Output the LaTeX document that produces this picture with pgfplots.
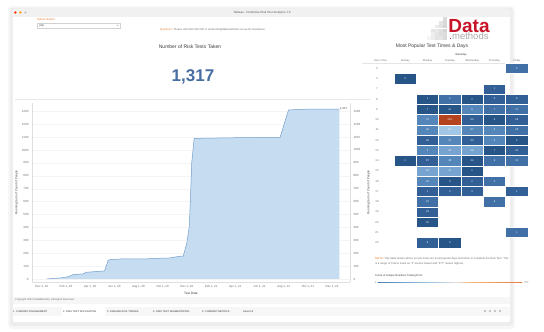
\documentclass[border=0pt]{standalone}
\usepackage{fontspec}
\setmainfont{Liberation Sans}
\usepackage{pgfplots}
\pgfplotsset{compat=1.18}
\definecolor{tabblue}{RGB}{70,110,162}
\definecolor{areafill}{RGB}{198,220,240}
\definecolor{arealine}{RGB}{115,158,205}
\definecolor{tblorange}{RGB}{232,120,40}
\definecolor{txtgray}{RGB}{110,110,110}
\definecolor{titlegray}{RGB}{60,60,60}
\definecolor{logored}{RGB}{200,20,40}
\definecolor{hA}{RGB}{40,85,136}
\definecolor{hB}{RGB}{50,96,150}
\definecolor{hC}{RGB}{64,112,165}
\definecolor{hD}{RGB}{84,134,185}
\definecolor{hE}{RGB}{118,163,207}
\definecolor{hF}{RGB}{162,198,229}
\definecolor{hR}{RGB}{180,68,32}
\newcommand{\fs}[1]{\fontsize{#1}{#1}\selectfont}
\pgfdeclarehorizontalshading{obshade}{4pt}{rgb(0pt)=(0.149,0.322,0.51); rgb(25pt)=(0.30,0.50,0.71); rgb(45pt)=(0.66,0.79,0.90); rgb(52pt)=(0.87,0.87,0.87); rgb(58pt)=(0.97,0.70,0.45); rgb(78pt)=(0.90,0.45,0.20); rgb(100pt)=(0.66,0.23,0.12)}
\pgfplotsset{
  cell/.style={only marks, mark=square*, mark size=5.13pt,
    mark options={xscale=2.176, line width=0.35pt, draw=white, fill=#1},
    point meta=explicit symbolic,
    nodes near coords,
    every node near coord/.append style={anchor=center, font=\fs{2.6}, text=white, inner sep=0pt}},
}

\begin{document}
\begin{tikzpicture}
\useasboundingbox (0,0) rectangle (544pt,-332pt);
\begin{scope}[x=1pt,y=-1pt]
\fill[white] (0,0) rectangle (544,332);
% window shadow
\fill[black,opacity=0.03,rounded corners=4] (8,6) rectangle (515,329);
\fill[black,opacity=0.04,rounded corners=3] (10,7.5) rectangle (513,326);
\draw[gray!25, fill=white, rounded corners=2, line width=0.3] (12.3,8.3) rectangle (510.5,322.5);
% title bar
\fill[gray!11] (12.6,8.6) rectangle (510.2,16.5);
\fill[red!70!orange] (15.3,12.5) circle (1.3);
\fill[orange!80!yellow] (20.3,12.5) circle (1.3);
\fill[gray!45] (25.3,12.5) circle (1.3);
\node[font=\fs{3}, text=gray!70!black] at (262,12.5) {Tableau - Predictive Risk Test Analytics 1.0};
% filter
\node[anchor=west, text=tblorange, font=\fs{2.8}, inner sep=0] at (37,19.6) {Select Version};
\draw[gray!35, line width=0.3] (37,22.7) rectangle (120,28);
\node[anchor=west, font=\fs{2.6}, text=titlegray, inner sep=0] at (39,25.35) {(All)};
\draw[gray!60, line width=0.3] (116.5,24.8) -- (117.5,25.9) -- (118.5,24.8);
\node[anchor=west, font=\fs{2.7}, inner sep=0] at (160,29.3) {\textcolor{tblorange}{Question?}\enspace\textcolor{txtgray}{Please call 0400 000 000 or email info@datamethods.com.au for assistance.}};
% logo
\foreach \c/\top/\sh in {0/33/8,1/29/12,2/25/16,3/21/20,4/17/26}{
  \foreach \r in {0,...,6}{
    \pgfmathsetmacro{\yy}{40-3.8*(\r+1)}
    \pgfmathparse{\yy>=\top-0.5?1:0}
    \ifnum\pgfmathresult=1
      \pgfmathsetmacro{\shade}{\sh+mod(\r*7+\c*3,9)}
      \fill[gray!\shade] (427+4*\c,\yy) rectangle ++(3.6,3.6);
    \fi
  }
}
\node[inner sep=0] at (469,29.6) {\vbox{\offinterlineskip
  \hbox to 44pt{\hss\fs{19}\bfseries\textcolor{logored}{Data}\hss}\kern0.6pt
  \hbox to 44pt{\hss\fs{9.5}\textcolor{gray!65}{\textcolor{logored}{.}methods}\hss}}};
% left panel titles
\node[font=\fs{5}, text=titlegray] at (190,46.5) {Number of Risk Tests Taken};
\node[font=\fs{17}\bfseries, text=tabblue] at (193,76.5) {1,317};
\draw[gray!18, line width=0.4] (15,99) -- (370,99);
% right panel titles
\node[font=\fs{5}, text=titlegray] at (432,46.7) {Most Popular Test Times \& Days};
\node[font=\fs{2.7}, text=titlegray] at (461,55) {Weekday};
\node[font=\fs{2.6}, text=txtgray] at (381,60.7) {Hour of Da..};
\draw[gray!20, line width=0.3] (362,63.2) -- (528,63.2);
% note and legend
\node[anchor=west, font=\fs{2.75}, inner sep=0, text=txtgray] at (375,258.8) {\textcolor{tblorange}{NOTE:} This table shows where on test times are most popular days and times to complete the Risk Test. This};
\node[anchor=west, font=\fs{2.75}, inner sep=0, text=txtgray] at (375,263.8) {is a range of Colour scale as ``1'' means lowest and ``277'' means highest.};
\node[anchor=west, font=\fs{2.7}, inner sep=0, text=titlegray] at (375,276) {Count of Unique Numbers Testing Error};
\shade[shading=obshade] (377.7,280.7) rectangle (522,284.2);
\node[font=\fs{2.6}, text=txtgray, inner sep=0] at (375.5,282.4) {1};
\node[font=\fs{2.6}, text=txtgray, inner sep=0] at (526.5,282.4) {277};
% copyright band
\fill[gray!7] (12.8,296.5) rectangle (510,304);
\node[anchor=west, font=\fs{2.6}, text=txtgray, inner sep=0] at (15,300.3) {Copyright 2022 DataMethods | All Rights Reserved};
% tab bar
\fill[gray!6] (12.8,306.5) rectangle (510,316);
\fill[white] (61.5,307) rectangle (105,315.5);
\foreach \xx/\tt in {13/{1. COMPANY ENGAGEMENT},63/{2. RISK TEST APPLICATION},107/{3. DISEASE RISK TRENDS},153/{4. RISK TEST SEGMENTATION},202/{5. COMPANY METRICS},243/{Sheet 15}}{
  \node[anchor=west, font=\fs{2.5}, text=gray!40!black, inner sep=0] at (\xx,311.2) {\tt};
}
\foreach \xx in {484,489,494,499}{\fill[gray!45] (\xx,310.2) rectangle ++(2,2);}
\end{scope}

% ---------- area chart ----------
\begin{axis}[
  at={(32pt,-281.7pt)}, anchor=south west, scale only axis,
  width=318pt, height=178.7pt,
  xmin=-0.8, xmax=25.48, ymin=-21, ymax=1364,
  xtick={0,2,...,24},
  xticklabels={{Dec 1, 19},{Feb 1, 20},{Apr 1, 20},{Jun 1, 20},{Aug 1, 20},{Oct 1, 20},{Dec 1, 20},{Feb 1, 21},{Apr 1, 21},{Jun 1, 21},{Aug 1, 21},{Oct 1, 21},{Dec 1, 21}},
  ytick={0,100,...,1300},
  ymajorgrids, grid style={gray!9, line width=0.3pt},
  axis y line*=left, axis x line*=bottom,
  axis line style={-, gray!25, line width=0.3pt},
  tick style={draw=none},
  ticklabel style={font=\fs{3}, text=txtgray},
  /pgf/number format/assume math mode=true,
  /pgf/number format/set thousands separator={},
  xlabel={Test Date}, xlabel style={font=\fs{3.2}, text=titlegray, yshift=3pt},
  ylabel={Running Sum of Count of People}, ylabel style={font=\fs{3}, text=titlegray, yshift=-3pt},
]
\addplot[draw=none, fill=areafill] coordinates {
(0.4,0) (1.5,8) (2.1,15) (2.6,34) (3.4,39) (3.7,52) (4.8,60) (5.1,62) (5.2,64) (5.5,145) (5.65,150) (6.5,155) (8.4,155) (9.5,160) (10.6,163) (11.4,176) (11.7,178) (12.0,280) (12.2,409) (12.3,640) (12.4,900) (12.6,1090) (16.1,1095) (19.7,1098) (20.4,1310) (21.6,1315) (22.2,1317) (24.6,1317)} \closedcycle;
\addplot[draw=arealine, line width=0.5pt] coordinates {
(0.4,0) (1.5,8) (2.1,15) (2.6,34) (3.4,39) (3.7,52) (4.8,60) (5.1,62) (5.2,64) (5.5,145) (5.65,150) (6.5,155) (8.4,155) (9.5,160) (10.6,163) (11.4,176) (11.7,178) (12.0,280) (12.2,409) (12.3,640) (12.4,900) (12.6,1090) (16.1,1095) (19.7,1098) (20.4,1310) (21.6,1315) (22.2,1317) (24.6,1317)};
\node[anchor=west, font=\fs{2.8}, text=titlegray, inner sep=0.6pt] at (axis cs:24.6,1317) {1,317};
\end{axis}
\begin{axis}[
  at={(32pt,-281.7pt)}, anchor=south west, scale only axis,
  width=318pt, height=178.7pt,
  xmin=-0.8, xmax=25.48, ymin=-21, ymax=1364,
  axis y line*=right, axis x line=none,
  yticklabel pos=right, ylabel near ticks,
  axis line style={-, gray!25, line width=0.3pt},
  ytick={0,100,...,1300},
  tick style={draw=none},
  ticklabel style={font=\fs{3}, text=txtgray},
  /pgf/number format/assume math mode=true,
  /pgf/number format/set thousands separator={},
  ylabel={Running Sum of Count of People}, ylabel style={font=\fs{3}, text=titlegray},
]
\addplot[draw=none] coordinates {(0,0)};
\end{axis}

% ---------- heatmap ----------
\begin{axis}[
  at={(394pt,-247.8pt)}, anchor=south west, scale only axis,
  width=134pt, height=184.6pt,
  xmin=-0.5, xmax=5.5, ymin=-0.5, ymax=17.5,
  axis line style={draw=none}, tick style={draw=none},
  xtick={0,...,5}, xticklabels={Sunday,Monday,Tuesday,Wednesday,Thursday,Friday},
  xticklabel pos=upper,
  xticklabel style={font=\fs{2.6}, text=txtgray, anchor=center, yshift=2.6pt},
  ytick={0,...,17}, yticklabels={22,21,20,19,18,17,16,15,14,13,12,11,10,9,8,7,3,0},
  yticklabel style={font=\fs{2.8}, text=txtgray, anchor=center, xshift=-17pt},
  clip=false,
]
\addplot[cell=hA] table[meta=lbl]{
x y lbl
0 16 3
1 14 1
3 14 2
1 13 7
2 13 11
4 12 4
5 10 2
4 9 7
0 8 1
3 8 34
3 7 1
2 6 3
1 2 40
2 0 3
};
\addplot[cell=hB] table[meta=lbl]{
x y lbl
4 15 1
4 14 3
5 14 8
3 12 53
5 12 26
1 10 36
3 10 90
5 9 41
1 8 87
3 6 2
1 5 1
2 5 3
3 5 3
5 5 1
1 3 29
1 0 8
};
\addplot[cell=hC] table[meta=lbl]{
x y lbl
5 17 2
2 14 4
4 13 7
5 13 17
5 11 26
4 8 8
5 8 15
4 6 2
1 4 22
4 4 8
5 1 1
};
\addplot[cell=hD] table[meta=lbl]{
x y lbl
3 13 6
1 12 72
1 11 45
3 11 67
4 11 6
2 10 37
4 10 5
1 9 5
2 8 28
1 6 34
};
\addplot[cell=hE] table[meta=lbl]{
x y lbl
2 9 44
3 9 58
1 7 60
2 7 11
};
\addplot[cell=hF] table[meta=lbl]{
x y lbl
2 11 81
};
\addplot[cell=hR] table[meta=lbl]{
x y lbl
2 12 201
};
\end{axis}
\end{tikzpicture}
\end{document}
